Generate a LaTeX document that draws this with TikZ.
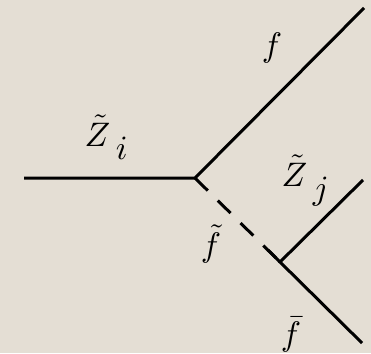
\documentclass[tikz,border=0pt]{standalone}
\usepackage{amsmath}
\definecolor{bg}{RGB}{228,222,212}
\newcommand{\lowsub}[1]{\lower4pt\hbox{$#1$}}
\begin{document}
\begin{tikzpicture}[x=1pt,y=-1pt,
  ln/.style={line width=3pt, black},
  dsh/.style={line width=3pt, black, dash pattern=on 18pt off 14pt},
  lbl/.style={inner sep=0pt, scale=3.4}]
\fill[bg] (0,0) rectangle (371,353);
\useasboundingbox (0,0) rectangle (371,353);
\coordinate (L) at (24,178);
\coordinate (A) at (195,178);
\coordinate (T) at (364,8);
\coordinate (B) at (280,262);
\coordinate (U) at (363,180);
\coordinate (D) at (362,343);
\draw[ln] (L) -- (A) -- (T);
\draw[dsh] (A) -- (B);
\draw[ln] (U) -- (B) -- (D);
\draw[ln] (268,250) -- (B);
\node[lbl, anchor=base west] (zi) at (84,146) {$\tilde{Z}\,\lowsub{i}$};
\node[lbl, anchor=base west] (zj) at (281,186) {$\tilde{Z}\,\lowsub{j}$};
\node[lbl, anchor=base] (f) at (272,56) {$f$};
\node[lbl, anchor=base] (ft) at (211,256) {$\tilde{f}$};
\node[lbl, anchor=base] (fb) at (291,345) {$\bar{f}$};
\end{tikzpicture}
\end{document}
